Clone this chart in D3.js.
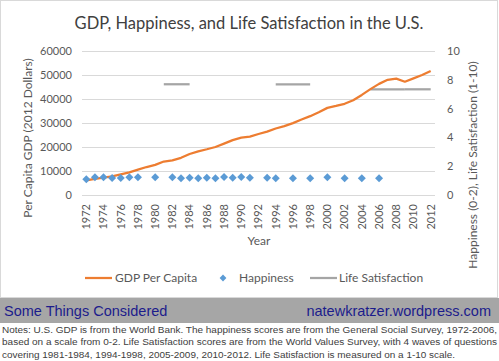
<!DOCTYPE html>
<html>
<head>
<meta charset="utf-8">
<script src="https://cdn.jsdelivr.net/npm/d3@7"></script>
<style>
  body { margin: 0; background: #fff; }
  svg text { font-family: Lato, "Open Sans", sans-serif; }
</style>
</head>
<body>
<div id="chart"></div>
<script>
var years = [1972, 1973, 1974, 1975, 1976, 1977, 1978, 1979, 1980, 1981, 1982, 1983, 1984, 1985, 1986, 1987,
             1988, 1989, 1990, 1991, 1992, 1993, 1994, 1995, 1996, 1997, 1998, 1999, 2000, 2001, 2002, 2003,
             2004, 2005, 2006, 2007, 2008, 2009, 2010, 2011, 2012];
var gdp = [6100, 6700, 7200, 7800, 8600, 9450, 10550, 11650, 12550, 13950, 14400, 15500, 17100, 18200, 19050, 20000,
           21400, 22850, 23900, 24300, 25400, 26400, 27700, 28700, 29950, 31450, 32850, 34500, 36300, 37100, 38000, 39500,
           41700, 44100, 46300, 48000, 48500, 47200, 48600, 50000, 51700];

var happyYears = [1972, 1973, 1974, 1975, 1976, 1977, 1978, 1980, 1982, 1983, 1984, 1985, 1986, 1987, 1988, 1989,
                  1990, 1991, 1993, 1994, 1996, 1998, 2000, 2002, 2004, 2006];
var happiness = [1.09, 1.23, 1.23, 1.18, 1.18, 1.23, 1.23, 1.23, 1.23, 1.16, 1.2, 1.16, 1.2, 1.16, 1.25, 1.2,
                 1.25, 1.2, 1.2, 1.16, 1.16, 1.16, 1.23, 1.16, 1.16, 1.16];

// life satisfaction waves: [first year, last year, value]
var lifeWaves = [[1981, 1984, 7.69], [1994, 1998, 7.69], [2005, 2009, 7.34], [2009, 2012, 7.34]];

var leftTicks = [0, 10000, 20000, 30000, 40000, 50000, 60000];
var rightTicks = [0, 2, 4, 6, 8, 10];

var orange = "#ed7d31", blue = "#5b9bd5", gray = "#a5a5a5", textCol = "#595959";

var width = 499, height = 361;
var plot = {left: 82, right: 435, top: 51, bottom: 195};

var svg = d3.select("#chart").append("svg")
            .attr("width", width)
            .attr("height", height);

// chart frame
svg.append("rect")
   .attr("x", 0.5).attr("y", 0.5)
   .attr("width", 497).attr("height", 297)
   .attr("fill", "#fff")
   .attr("stroke", "#d9d9d9");

var x = d3.scaleBand()
          .domain(years)
          .range([plot.left, plot.right]);
var yL = d3.scaleLinear().domain([0, 60000]).range([plot.bottom, plot.top]);
var yR = d3.scaleLinear().domain([0, 10]).range([plot.bottom, plot.top]);
var cx = function(yr) { return x(yr) + x.bandwidth() / 2; };

svg.append("text")
   .attr("x", 249).attr("y", 29)
   .attr("text-anchor", "middle")
   .attr("fill", "#404040")
   .style("font-size", "16.5px")
   .text("GDP, Happiness, and Life Satisfaction in the U.S.");

// gridlines
svg.append("g")
   .selectAll("line")
   .data(leftTicks)
   .enter().append("line")
   .attr("x1", plot.left).attr("x2", plot.right)
   .attr("y1", function(d) { return Math.round(yL(d)) + 0.5; })
   .attr("y2", function(d) { return Math.round(yL(d)) + 0.5; })
   .attr("stroke", "#d9d9d9");

var leftAxis = svg.append("g")
   .attr("transform", "translate(" + plot.left + ",0)")
   .call(d3.axisLeft(yL).tickValues(leftTicks).tickSize(0).tickPadding(10).tickFormat(d3.format("d")));
var rightAxis = svg.append("g")
   .attr("transform", "translate(" + plot.right + ",0)")
   .call(d3.axisRight(yR).tickValues(rightTicks).tickSize(0).tickPadding(12));
var xAxis = svg.append("g")
   .attr("transform", "translate(0," + plot.bottom + ")")
   .call(d3.axisBottom(x).tickValues(years.filter(function(d, i) { return i % 2 == 0; })).tickSize(0));

[leftAxis, rightAxis, xAxis].forEach(function(a) {
  a.select(".domain").remove();
  a.selectAll("text").attr("fill", textCol).style("font-size", "11px")
   .style("font-family", "Lato, sans-serif");
});

xAxis.selectAll("text")
     .attr("transform", "rotate(-90)")
     .attr("text-anchor", "end")
     .attr("x", -9).attr("y", 0).attr("dy", "0.35em");

// axis titles
svg.append("text")
   .attr("transform", "translate(32,138) rotate(-90)")
   .attr("text-anchor", "middle")
   .attr("fill", textCol)
   .style("font-size", "12px")
   .text("Per Capita GDP (2012 Dollars)");
svg.append("text")
   .attr("transform", "translate(477,165) rotate(-90)")
   .attr("text-anchor", "middle")
   .attr("fill", textCol)
   .style("font-size", "12px")
   .text("Happiness (0-2), Life Satisfaction (1-10)");
svg.append("text")
   .attr("x", 259).attr("y", 245)
   .attr("text-anchor", "middle")
   .attr("fill", textCol)
   .style("font-size", "12px")
   .text("Year");

// life satisfaction
var lsLine = d3.line()
               .x(function(d) { return cx(d[0]); })
               .y(function(d) { return yR(d[1]); });
svg.append("g")
   .selectAll("path")
   .data(lifeWaves)
   .enter().append("path")
   .attr("d", function(d) { return lsLine([[d[0], d[2]], [d[1], d[2]]]); })
   .attr("fill", "none")
   .attr("stroke", gray)
   .attr("stroke-width", 2.25);

// gdp line
var gdpData = years.map(function(yr, i) { return [yr, gdp[i]]; });
svg.append("path")
   .datum(gdpData)
   .attr("d", d3.line()
                .x(function(d) { return cx(d[0]); })
                .y(function(d) { return yL(d[1]); }))
   .attr("fill", "none")
   .attr("stroke", orange)
   .attr("stroke-width", 2.25)
   .attr("stroke-linejoin", "round");

// happiness diamonds
var diamond = "M0,-4L4,0L0,4L-4,0Z";
svg.append("g")
   .selectAll("path")
   .data(happyYears)
   .enter().append("path")
   .attr("d", diamond)
   .attr("transform", function(d, i) { return "translate(" + cx(d) + "," + yR(happiness[i]) + ")"; })
   .attr("fill", blue);

// legend
var leg = svg.append("g").attr("transform", "translate(0,278)");
leg.append("line").attr("x1", 85).attr("x2", 112).attr("stroke", orange).attr("stroke-width", 2.25);
leg.append("text").attr("x", 115).attr("y", 4).attr("fill", textCol).style("font-size", "12px").text("GDP Per Capita");
leg.append("path").attr("d", diamond).attr("transform", "translate(223,0) scale(0.85)").attr("fill", blue);
leg.append("text").attr("x", 239).attr("y", 4).attr("fill", textCol).style("font-size", "12px").text("Happiness");
leg.append("line").attr("x1", 310).attr("x2", 337).attr("stroke", gray).attr("stroke-width", 2.25);
leg.append("text").attr("x", 339).attr("y", 4).attr("fill", textCol).style("font-size", "12px").text("Life Satisfaction");

// footer band
svg.append("rect")
   .attr("x", 0).attr("y", 298)
   .attr("width", width).attr("height", 25)
   .attr("fill", "#a6a6a6");
svg.append("text")
   .attr("x", 4).attr("y", 316)
   .attr("fill", "#1c1c8c")
   .style("font-family", "'Liberation Sans', Arial, sans-serif")
   .style("font-size", "14.5px")
   .text("Some Things Considered");
svg.append("text")
   .attr("x", 491).attr("y", 316)
   .attr("text-anchor", "end")
   .attr("fill", "#1c1c8c")
   .style("font-family", "'Liberation Sans', Arial, sans-serif")
   .style("font-size", "14.5px")
   .text("natewkratzer.wordpress.com");

var notes = ["Notes: U.S. GDP is from the World Bank. The happiness scores are from the General Social Survey, 1972-2006,",
             "based on a scale from 0-2. Life Satisfaction scores are from the World Values Survey, with 4 waves of questions",
             "covering 1981-1984, 1994-1998, 2005-2009, 2010-2012. Life Satisfaction is measured on a 1-10 scale."];
var noteWidths = [495, 495, 453];
svg.append("g")
   .selectAll("text")
   .data(notes)
   .enter().append("text")
   .attr("x", 2)
   .attr("y", function(d, i) { return 333 + i * 12.3; })
   .attr("fill", "#404040")
   .attr("textLength", function(d, i) { return noteWidths[i]; })
   .attr("lengthAdjust", "spacingAndGlyphs")
   .style("font-family", "'Liberation Sans', Arial, sans-serif")
   .style("font-size", "9.6px")
   .text(function(d) { return d; });
</script>
</body>
</html>
